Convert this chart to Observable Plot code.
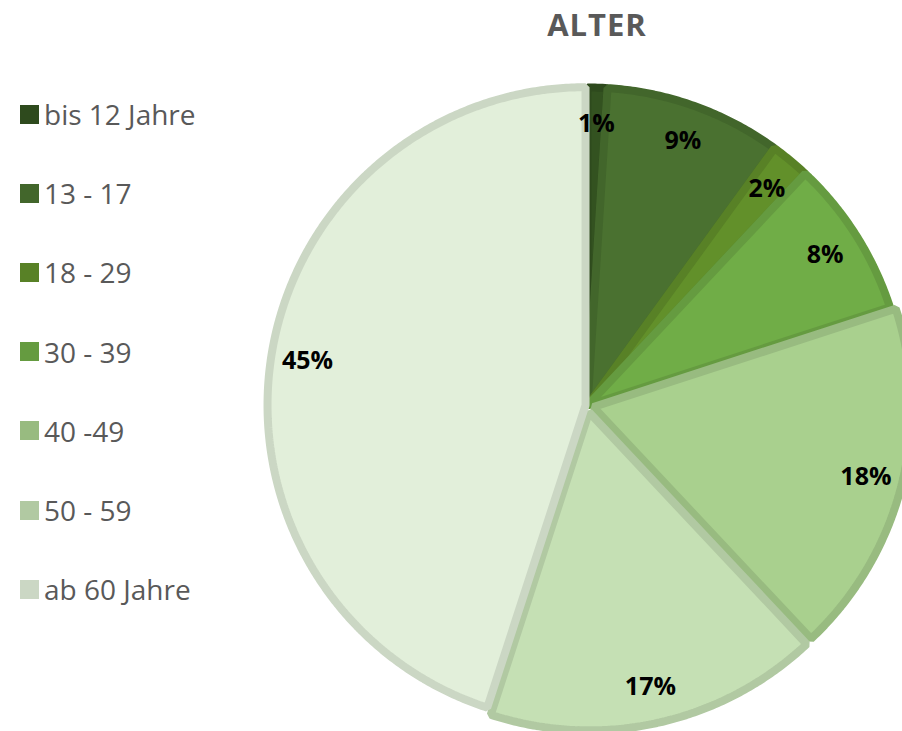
<!DOCTYPE html>
<html><head><meta charset="utf-8">
<script src="https://cdn.jsdelivr.net/npm/d3@7"></script>
<script src="https://cdn.jsdelivr.net/npm/@observablehq/plot@0.6"></script>
<style>
body{margin:0;background:#fff;overflow:hidden;font-family:"Open Sans",sans-serif}
#wrap{position:relative;width:902px;height:731px;overflow:hidden}
#wrap svg{position:absolute;left:0;top:0}
#title{position:absolute;left:597px;top:9px;transform:translateX(-50%);font-size:31px;line-height:1;font-weight:700;color:#595959;letter-spacing:1px;white-space:nowrap}
.row{position:absolute;left:20px;height:28px;display:flex;align-items:center;font-size:28px;line-height:1;color:#595959;white-space:nowrap}
.sw{width:19px;height:19px;margin-right:5px;flex:none}
</style></head>
<body><div id="wrap"><div id="title">ALTER</div></div>
<script>
const categories = ["bis 12 Jahre", "13 - 17", "18 - 29", "30 - 39", "40 -49", "50 - 59", "ab 60 Jahre"];
const values = [1, 9, 2, 8, 18, 17, 45];
const labels = ["1%", "9%", "2%", "8%", "18%", "17%", "45%"];
const fills = ["#335220", "#4a7130", "#62902a", "#70ad47", "#a9d08e", "#c5e0b4", "#e2efda"];
const explode = [0, 0, 0, 0, 6, 7, 2];

const cx = 587, cy = 405, R = 318;
const strokes = fills.map(c => d3.color(c).darker(0.3).formatHex());

const arcs = d3.pie().sort(null).value(d => d)(values);
const slices = arcs.map((a, i) => {
  const mid = (a.startAngle + a.endAngle) / 2;
  const e = explode[i] / R;
  const ox = e * Math.sin(mid), oy = e * Math.cos(mid);
  const pts = [{x: ox, y: oy}];
  const n = Math.max(2, Math.ceil((a.endAngle - a.startAngle) / (Math.PI / 360)));
  for (let k = 0; k <= n; k++) {
    const t = a.startAngle + (a.endAngle - a.startAngle) * k / n;
    pts.push({x: ox + Math.sin(t), y: oy + Math.cos(t)});
  }
  const lr = 0.885;
  return {i, pts, label: {x: ox + lr * Math.sin(mid), y: oy + lr * Math.cos(mid), text: labels[i]}};
});

const marks = slices.map(s => Plot.line(s.pts, {
  x: "x", y: "y", curve: "linear-closed",
  fill: fills[s.i], stroke: strokes[s.i], strokeWidth: 8, strokeLinejoin: "miter"
}));
marks.push(Plot.text(slices.map(s => s.label), {
  x: "x", y: "y", text: "text", fontSize: 25, fontWeight: 700, fill: "#000", fontFamily: "Open Sans"
}));

const chart = Plot.plot({
  width: 902, height: 731, margin: 0,
  x: {domain: [-1, 1], range: [cx - R, cx + R], axis: null},
  y: {domain: [-1, 1], range: [cy + R, cy - R], axis: null},
  style: {fontFamily: "Open Sans", background: "white", overflow: "hidden"},
  marks
});
const wrap = document.getElementById("wrap");
wrap.insertBefore(chart, wrap.firstChild);

categories.forEach((c, i) => {
  const row = document.createElement("div");
  row.className = "row";
  row.style.top = (114 + i * 79.2 - 14) + "px";
  const sw = document.createElement("div");
  sw.className = "sw";
  sw.style.background = strokes[i];
  row.appendChild(sw);
  row.appendChild(document.createTextNode(c));
  wrap.appendChild(row);
});
</script>
</body></html>
